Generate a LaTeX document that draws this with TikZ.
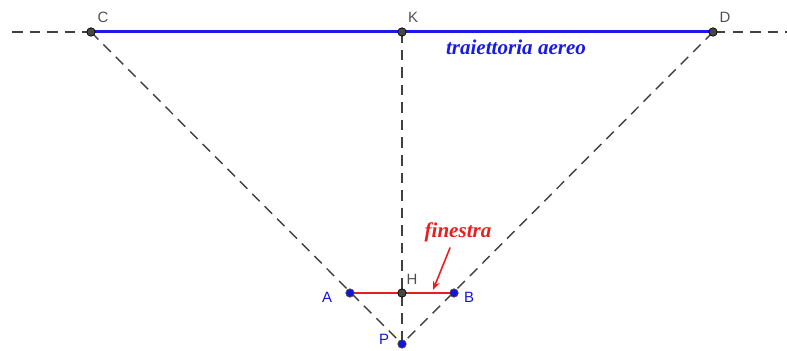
\documentclass[tikz,border=0pt]{standalone}
\usepackage{fontspec}
\setmainfont{Liberation Serif}
\setsansfont{Liberation Sans}
\usetikzlibrary{arrows.meta}

\begin{document}
\begin{tikzpicture}[
    line cap=round,
    line join=round,
    every node/.style={font=\sffamily\fontsize{8.5}{10}\selectfont}
]

\definecolor{ptgray}{RGB}{70,70,70}
\definecolor{lblgray}{RGB}{80,80,80}
\definecolor{ptblue}{RGB}{20,20,220}
\definecolor{lineblue}{RGB}{25,25,235}
\definecolor{winred}{RGB}{235,30,30}

\tikzset{
    guide/.style={black!75, line width=0.8pt, dash pattern=on 6pt off 4pt, line cap=butt},
    grayvtx/.style={fill=ptgray, draw=black, line width=0.4pt},
    bluevtx/.style={fill=ptblue, draw=black!70, line width=0.4pt},
    notelbl/.style={font=\rmfamily\bfseries\itshape\fontsize{12}{14}\selectfont}
}

\useasboundingbox (0,0) rectangle (15.74,7.02);

% -----------------------------
% Points
% -----------------------------
\coordinate (C) at (1.82,6.38);
\coordinate (K) at (8.04,6.38);
\coordinate (D) at (14.26,6.38);
\coordinate (A) at (7.00,1.16);
\coordinate (H) at (8.04,1.16);
\coordinate (B) at (9.08,1.16);
\coordinate (P) at (8.04,0.14);
\coordinate (lineL) at (0.24,6.38);
\coordinate (lineR) at (15.74,6.38);

% -----------------------------
% Dashed construction lines
% -----------------------------
\draw[guide] (lineL) -- (lineR);
\draw[guide] (C) -- (P);
\draw[guide] (D) -- (P);
\draw[guide] (K) -- (P);

% -----------------------------
% Plane path and window
% -----------------------------
\draw[lineblue, line width=1.7pt] (C) -- (D);
\draw[winred, line width=1.2pt] (A) -- (B);

\node[lineblue, notelbl] (traj) at (10.32,6.08) {traiettoria aereo};
\node[winred, notelbl] (win) at (9.16,2.38) {finestra};
\coordinate (wintip) at (8.66,1.22);
\draw[winred, line width=0.9pt, -{Stealth[length=5pt,width=4pt]}]
    ([xshift=-0.16cm]win.south) -- (wintip);

% -----------------------------
% Vertices and labels
% -----------------------------
\foreach \p in {C,K,D,H}
    \fill[grayvtx] (\p) circle (2.4pt);
\foreach \p in {A,B,P}
    \fill[bluevtx] (\p) circle (2.4pt);

\node[lblgray] (lC) at (2.06,6.68) {C};
\node[lblgray] (lK) at (8.26,6.68) {K};
\node[lblgray] (lD) at (14.50,6.68) {D};
\node[lblgray] (lH) at (8.24,1.44) {H};
\node[ptblue] (lA) at (6.54,1.08) {A};
\node[ptblue] (lB) at (9.38,1.08) {B};
\node[ptblue, anchor=south] (lP) at (7.68,0.0) {P};

\end{tikzpicture}
\end{document}
